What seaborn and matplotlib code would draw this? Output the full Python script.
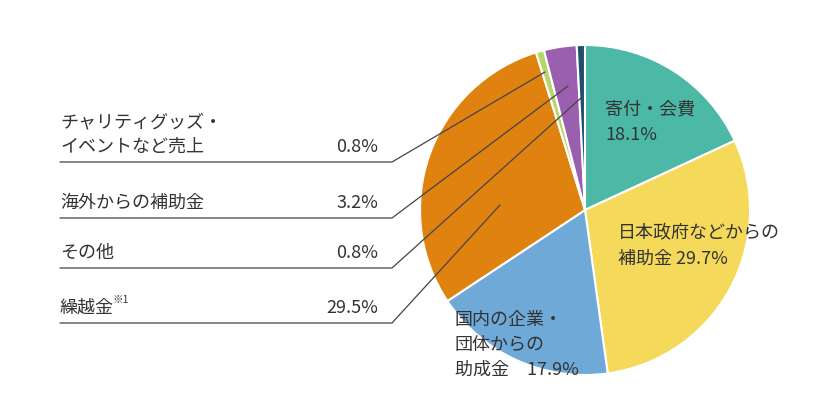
import matplotlib
matplotlib.use("Agg")
import matplotlib.pyplot as plt
import seaborn as sns

sns.set_theme(style="white")
plt.rcParams['font.family'] = ['Noto Sans CJK JP', 'DejaVu Sans']

categories = ["寄付・会費", "日本政府などからの補助金", "国内の企業・団体からの助成金", "繰越金",
              "チャリティグッズ・イベントなど売上", "海外からの補助金", "その他"]
values = [18.1, 29.7, 17.9, 29.5, 0.8, 3.2, 0.8]
colors = ["#4cb8a6", "#f5d95a", "#6fa9d8", "#e0820f", "#b9d66a", "#9b5fb0", "#1f4e6e"]

fig = plt.figure(figsize=(8.4, 4.2), dpi=100)
ax = fig.add_axes([(585 - 165) / 840, 45 / 420, 330 / 840, 330 / 420])
ax.pie(values, colors=colors, startangle=90, counterclock=False, radius=1,
       wedgeprops=dict(edgecolor="white", linewidth=1.5))
ax.set_xlim(-1, 1); ax.set_ylim(-1, 1)
ax.set_aspect("equal")

ov = fig.add_axes([0, 0, 1, 1], facecolor="none")
ov.set_xlim(0, 840); ov.set_ylim(420, 0); ov.axis("off")
tc = "#333333"; fs = 13

left = [("チャリティグッズ・\nイベントなど売上", values[4], 162, (545, 72)),
        ("海外からの補助金", values[5], 218, (568, 86)),
        ("その他", values[6], 268, (581, 98)),
        ("繰越金", values[3], 323, (500, 205))]
for lab, v, y, tgt in left:
    ov.plot([60, 392, tgt[0]], [y, y, tgt[1]], color="#444444", lw=0.9)
    ov.text(60, y - 6, lab, ha="left", va="bottom", fontsize=fs, color=tc, linespacing=1.5)
    ov.text(378, y - 6, f"{v}%", ha="right", va="bottom", fontsize=fs, color=tc)
ov.text(112, 300, "※1", fontsize=7.5, color=tc, ha="left", va="center")

ov.text(605, 122, f"寄付・会費\n{values[0]}%", ha="left", va="center", fontsize=fs, color=tc, linespacing=1.5)
ov.text(618, 246, f"日本政府などからの\n補助金 {values[1]}%", ha="left", va="center", fontsize=fs, color=tc, linespacing=1.5)
ov.text(455, 345, f"国内の企業・\n団体からの\n助成金　{values[2]}%", ha="left", va="center", fontsize=fs, color=tc, linespacing=1.5)

fig.savefig("out.png", dpi=100)
